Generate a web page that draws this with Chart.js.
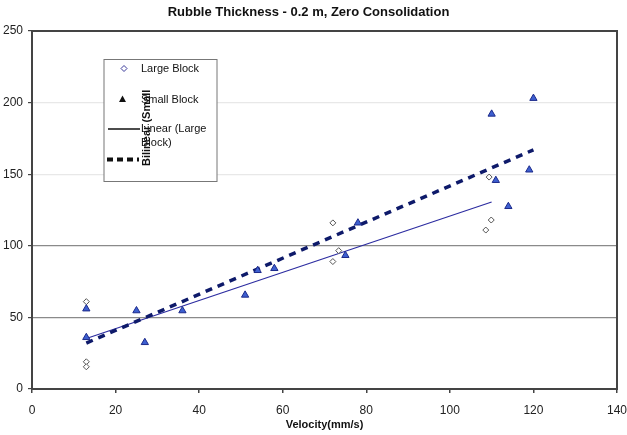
<!DOCTYPE html>
<html>
<head>
<meta charset="utf-8">
<script src="https://cdn.jsdelivr.net/npm/chart.js@4/dist/chart.umd.min.js"></script>
<style>
  html, body { margin: 0; padding: 0; background: #fff; }
  #wrap { width: 627px; height: 435px; }
</style>
</head>
<body>
<div id="wrap"><canvas id="chart" width="627" height="435"></canvas></div>
<script>
// values
const largeX = [13, 13, 13, 72, 72, 73.4, 109.4, 109.9, 108.6];
const largeY = [61, 19, 15.5, 116, 89, 96.6, 148, 118, 111];
const smallX = [13, 13, 25, 27, 36, 51, 54, 58, 75, 78, 110, 120, 111, 119, 114];
const smallY = [56, 36, 54.7, 32.5, 54.7, 65.6, 82.8, 84.2, 93.3, 116, 192, 203, 145.7, 153, 127.5];
const largeTrendX = [13, 110];
const largeTrendY = [35.3, 130.6];
const smallTrendX = [13, 120];
const smallTrendY = [32.1, 167];
const xRange = [0, 140, 20];
const yRange = [0, 250, 50];

const seriesNames = ['Large Block', 'Small Block', 'Linear (Large Block)', 'Bilinear (Small Block)'];

function pts(xs, ys) {
    return xs.map((x, i) => ({ x: x, y: ys[i] }));
}

const FONT = '"Liberation Sans", Arial, sans-serif';

// frame around the plot area
const framePlugin = {
    id: 'frame',
    afterDatasetsDraw(chart) {
        const a = chart.chartArea;
        const ctx = chart.ctx;
        ctx.save();
        ctx.strokeStyle = '#444';
        ctx.lineWidth = 2;
        ctx.strokeRect(a.left, a.top, a.right - a.left, a.bottom - a.top);
        ctx.restore();
    }
};

// Excel style legend box, with its overlapping rotated label
const legendPlugin = {
    id: 'boxLegend',
    afterDraw(chart) {
        const ctx = chart.ctx;
        ctx.save();
        ctx.fillStyle = '#fff';
        ctx.fillRect(104, 59.5, 113, 122);
        ctx.strokeStyle = '#777';
        ctx.lineWidth = 1;
        ctx.strokeRect(104, 59.5, 113, 122);

        ctx.font = '11px ' + FONT;
        ctx.fillStyle = '#111';
        ctx.textBaseline = 'middle';
        ctx.textAlign = 'left';

        // diamond
        ctx.beginPath();
        ctx.moveTo(124, 65.5); ctx.lineTo(127, 68.5); ctx.lineTo(124, 71.5); ctx.lineTo(121, 68.5);
        ctx.closePath();
        ctx.fillStyle = '#fff';
        ctx.fill();
        ctx.strokeStyle = '#3a3a9a';
        ctx.stroke();
        ctx.fillStyle = '#111';
        ctx.fillText('Large Block', 141, 68.5);

        // triangle
        ctx.beginPath();
        ctx.moveTo(122.5, 95.5); ctx.lineTo(126, 102); ctx.lineTo(119, 102);
        ctx.closePath();
        ctx.fillStyle = '#111';
        ctx.fill();
        ctx.fillText('Small Block', 141, 99.5);

        // solid line
        ctx.strokeStyle = '#111';
        ctx.lineWidth = 1.5;
        ctx.beginPath();
        ctx.moveTo(108, 129); ctx.lineTo(140, 129);
        ctx.stroke();
        ctx.fillText('Linear (Large', 141, 129);
        ctx.fillText('Block)', 141, 143);

        // dashed line
        ctx.lineWidth = 4;
        ctx.setLineDash([6, 4]);
        ctx.beginPath();
        ctx.moveTo(107, 159.5); ctx.lineTo(139, 159.5);
        ctx.stroke();
        ctx.setLineDash([]);

        // rotated label
        ctx.translate(147, 166);
        ctx.rotate(-Math.PI / 2);
        ctx.font = 'bold 11px ' + FONT;
        ctx.fillText('Bilinear (Small', 0, 0);
        ctx.restore();
    }
};

function gridColor(ctx) {
    const v = ctx.tick ? ctx.tick.value : null;
    if (v === 50 || v === 100) return '#8a8a8a';
    if (v === 150 || v === 200) return '#e8e8e8';
    return '#444';
}

new Chart(document.getElementById('chart'), {
    type: 'scatter',
    data: {
        datasets: [{
            label: seriesNames[0],
            data: pts(largeX, largeY),
            pointStyle: 'rectRot',
            pointRadius: 3,
            backgroundColor: '#fff',
            borderColor: '#555',
            borderWidth: 1,
            order: 1
        }, {
            label: seriesNames[1],
            data: pts(smallX, smallY),
            pointStyle: 'triangle',
            pointRadius: 4.2,
            backgroundColor: '#3d5fd0',
            borderColor: '#1c2a8a',
            borderWidth: 1,
            order: 0
        }, {
            label: seriesNames[2],
            type: 'line',
            data: pts(largeTrendX, largeTrendY),
            borderColor: '#2c2ca0',
            borderWidth: 1.2,
            pointRadius: 0,
            fill: false,
            order: 3
        }, {
            label: seriesNames[3],
            type: 'line',
            data: pts(smallTrendX, smallTrendY),
            borderColor: '#0e1a6a',
            borderWidth: 3.5,
            borderDash: [7, 6],
            pointRadius: 0,
            fill: false,
            order: 2
        }]
    },
    options: {
        responsive: false,
        animation: false,
        layout: { padding: { top: 0, right: 10, bottom: 0, left: 0 } },
        plugins: {
            legend: { display: false },
            tooltip: { enabled: false },
            title: {
                display: true,
                text: 'Rubble Thickness - 0.2 m, Zero Consolidation',
                color: '#111',
                font: { family: FONT, size: 13, weight: 'bold' },
                padding: { top: 5, bottom: 10.4 }
            }
        },
        scales: {
            x: {
                type: 'linear',
                min: xRange[0],
                max: xRange[1],
                afterFit(scale) {
                    scale.height = 46;
                    scale.paddingRight = 0;
                    scale.paddingLeft = 0;
                },
                ticks: {
                    stepSize: xRange[2],
                    color: '#222',
                    padding: 10,
                    maxRotation: 0,
                    font: { family: FONT, size: 12 }
                },
                grid: {
                    drawOnChartArea: false,
                    drawTicks: true,
                    tickLength: 4,
                    tickColor: '#444',
                    lineWidth: 1.5
                },
                border: { display: false },
                title: {
                    display: true,
                    text: 'Velocity(mm/s)',
                    color: '#111',
                    font: { family: FONT, size: 11, weight: 'bold' },
                    padding: { top: 0, bottom: 3 }
                }
            },
            y: {
                type: 'linear',
                min: yRange[0],
                max: yRange[1],
                afterFit(scale) { scale.width = 32; },
                ticks: {
                    stepSize: yRange[2],
                    color: '#222',
                    padding: 5,
                    font: { family: FONT, size: 12 }
                },
                grid: {
                    color: gridColor,
                    drawTicks: true,
                    tickLength: 4,
                    tickColor: '#444',
                    lineWidth: 1.2
                },
                border: { display: false }
            }
        }
    },
    plugins: [framePlugin, legendPlugin]
});
</script>
</body>
</html>
